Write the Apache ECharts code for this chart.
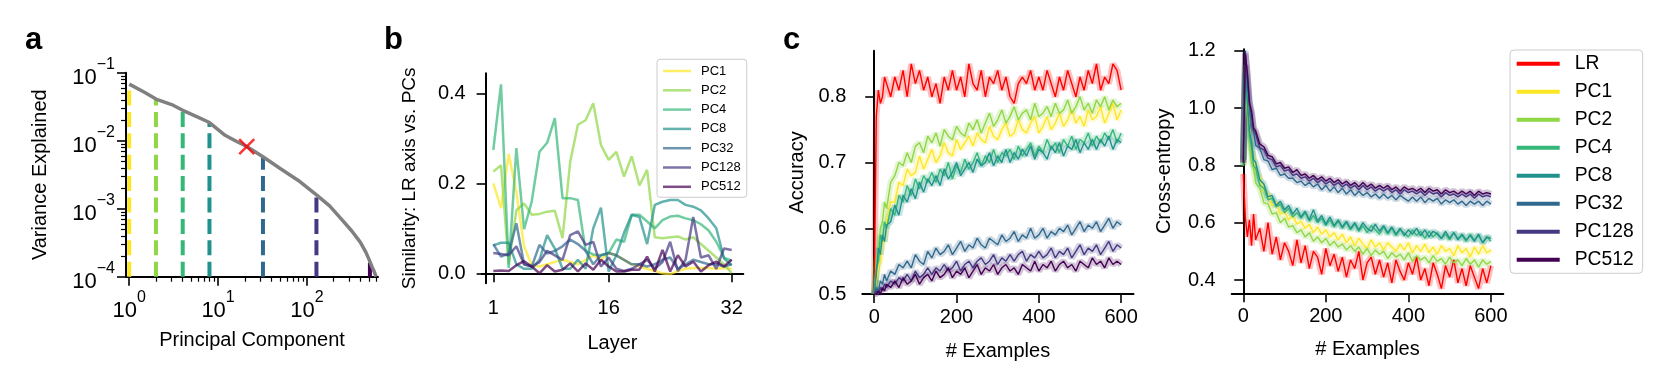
<!DOCTYPE html>
<html>
<head>
<meta charset="utf-8">
<title>LR axis vs PCs</title>
<script src="https://cdn.jsdelivr.net/npm/echarts@6/dist/echarts.min.js"></script>
<style>
  html, body { margin: 0; padding: 0; background: #fff; }
  #chart { width: 1661px; height: 376px; }
</style>
</head>
<body>
<div id="chart"></div>
<script>
// ---- shared ----
var pcNames = ['PC1', 'PC2', 'PC4', 'PC8', 'PC32', 'PC128', 'PC512'];
var pcColors = ['#fde725', '#8fd744', '#35b779', '#21918c', '#31688e', '#443983', '#440154'];
var lrColor = '#ff0000';

// ---- panel a: variance explained ----
var pcIndex = [1, 1.5, 2, 3, 4, 6, 8, 12, 16, 21, 32, 50, 80, 128, 180, 250, 320, 400, 460, 500, 540, 570, 600];
var varExplained = [0.068, 0.051, 0.041, 0.034, 0.028, 0.022, 0.0185, 0.012, 0.0098, 0.0082, 0.0058, 0.0039, 0.0026, 0.0016,
  0.0011, 0.00068, 0.00047, 0.00032, 0.00023, 0.00018, 0.00014, 0.00012, 0.0001];
var dropPC = [1, 2, 4, 8, 32, 128, 512];
var dropTop = [0.066, 0.041, 0.028, 0.0185, 0.0057, 0.0016, 0.00016];
var lrPoint = [21, 0.0082];
var xMajor = [1, 10, 100];
var xMinor = [2, 3, 4, 5, 6, 7, 8, 9, 20, 30, 40, 50, 60, 70, 80, 90, 200, 300, 400, 500, 600];
var yMajor = [0.0001, 0.001, 0.01, 0.1];
var yMinor = [0.0002, 0.0003, 0.0004, 0.0005, 0.0006, 0.0007, 0.0008, 0.0009,
  0.002, 0.003, 0.004, 0.005, 0.006, 0.007, 0.008, 0.009,
  0.02, 0.03, 0.04, 0.05, 0.06, 0.07, 0.08, 0.09];

// ---- panel b: similarity per layer ----
var layers = [1, 2, 3, 4, 5, 6, 7, 8, 9, 10, 11, 12, 13, 14, 15, 16, 17, 18, 19, 20, 21, 22, 23, 24, 25, 26, 27, 28, 29, 30, 31, 32];
var simPC1 = [0.20, 0.145, 0.265, 0.18, 0.06, 0.018, 0.015, 0.02, 0.025, 0.03, 0.025, 0.02, 0.03, 0.04, 0.03, 0.045,
  0.04, 0.03, 0.02, 0.015, 0.01, 0.005, 0.0, -0.002, 0.005, 0.01, 0.012, 0.012, 0.012, 0.01, 0.012, 0.01];
var simPC2 = [0.226, 0.24, 0.02, 0.14, 0.155, 0.13, 0.132, 0.137, 0.139, 0.078, 0.248, 0.33, 0.34, 0.378, 0.285, 0.252,
  0.27, 0.215, 0.26, 0.195, 0.23, 0.08, 0.078, 0.08, 0.082, 0.075, 0.08, 0.065, 0.05, 0.035, 0.02, 0.0];
var simPC4 = [0.274, 0.42, 0.012, 0.278, 0.098, 0.16, 0.27, 0.29, 0.345, 0.167, 0.167, 0.163, 0.05, 0.042, 0.04, 0.045,
  0.075, 0.07, 0.13, 0.13, 0.115, 0.1, 0.118, 0.126, 0.128, 0.122, 0.118, 0.109, 0.095, 0.07, 0.035, 0.028];
var simPC8 = [0.062, 0.068, 0.068, 0.02, 0.01, 0.01, 0.03, 0.085, 0.055, 0.01, 0.01, 0.03, 0.01, 0.1, 0.146, 0.004,
  0.04, 0.09, 0.13, 0.125, 0.065, 0.152, 0.159, 0.163, 0.163, 0.152, 0.148, 0.14, 0.122, 0.1, 0.033, 0.018];
var simPC32 = [0.065, 0.037, 0.044, 0.111, 0.02, 0.015, 0.063, 0.044, 0.05, 0.06, 0.075, 0.065, 0.05, 0.02, 0.04, 0.045,
  0.04, 0.03, 0.02, 0.02, 0.015, 0.02, 0.03, 0.035, 0.01, 0.02, 0.03, 0.025, 0.02, 0.02, 0.015, 0.02];
var simPC128 = [0.045, 0.043, 0.04, 0.06, 0.02, 0.015, 0.025, 0.05, 0.04, 0.03, 0.085, 0.093, 0.063, 0.07, 0.015, 0.035,
  0.01, 0.005, 0.01, 0.02, 0.03, 0.01, 0.025, 0.07, 0.005, 0.03, 0.125, 0.035, 0.04, 0.01, 0.055, 0.052];
var simPC512 = [0.005, 0.006, 0.005, 0.018, 0.027, 0.015, 0.0, 0.018, 0.004, 0.008, 0.022, 0.004, 0.022, 0.008, 0.03, 0.015,
  0.004, 0.004, 0.008, 0.008, 0.037, 0.004, 0.052, 0.004, 0.04, 0.015, 0.026, 0.004, 0.018, 0.026, 0.015, 0.03];
var simAll = [simPC1, simPC2, simPC4, simPC8, simPC32, simPC128, simPC512];

// ---- panel c: accuracy / cross-entropy vs # examples ----
var examples = [0, 5, 10, 15, 20, 25, 30, 40, 50, 60, 70, 80, 90, 100, 110, 120, 130, 140, 150, 160, 170, 180, 190, 200,
  210, 220, 230, 240, 250, 260, 270, 280, 290, 300, 310, 320, 330, 340, 350, 360, 370, 380, 390, 400,
  410, 420, 430, 440, 450, 460, 470, 480, 490, 500, 510, 520, 530, 540, 550, 560, 570, 580, 590, 600];

var accLR = [0.50, 0.77, 0.81, 0.79, 0.80, 0.83, 0.82,
  0.80, 0.83, 0.81, 0.84, 0.80, 0.85, 0.82, 0.84, 0.81, 0.83,
  0.80, 0.82, 0.79, 0.83, 0.81, 0.84, 0.81, 0.83, 0.80, 0.85,
  0.82, 0.81, 0.84, 0.80, 0.83, 0.82, 0.84, 0.81, 0.83, 0.80,
  0.79, 0.82, 0.83, 0.82, 0.84, 0.81, 0.83, 0.81, 0.84, 0.82,
  0.80, 0.83, 0.81, 0.84, 0.82, 0.80, 0.83, 0.81, 0.84, 0.82,
  0.85, 0.81, 0.83, 0.82, 0.85, 0.84, 0.81];
var accPC1 = [0.50, 0.52, 0.54, 0.55, 0.58, 0.58, 0.61,
  0.64, 0.64, 0.67, 0.665, 0.69, 0.68, 0.685, 0.71, 0.69, 0.705,
  0.72, 0.70, 0.71, 0.73, 0.715, 0.71, 0.735, 0.72, 0.73, 0.74,
  0.725, 0.745, 0.735, 0.73, 0.755, 0.74, 0.735, 0.75, 0.76, 0.74,
  0.745, 0.765, 0.75, 0.745, 0.76, 0.77, 0.745, 0.755, 0.77, 0.75,
  0.76, 0.775, 0.755, 0.765, 0.78, 0.76, 0.77, 0.755, 0.78, 0.765,
  0.77, 0.785, 0.76, 0.775, 0.79, 0.765, 0.78];
var accPC2 = [0.50, 0.55, 0.57, 0.60, 0.61, 0.64, 0.63,
  0.67, 0.68, 0.70, 0.695, 0.715, 0.70, 0.725, 0.73, 0.715, 0.74,
  0.73, 0.745, 0.725, 0.75, 0.74, 0.735, 0.755, 0.745, 0.74, 0.76,
  0.75, 0.765, 0.745, 0.76, 0.775, 0.755, 0.765, 0.78, 0.76, 0.77,
  0.785, 0.765, 0.775, 0.78, 0.765, 0.79, 0.77, 0.775, 0.785, 0.77,
  0.79, 0.775, 0.78, 0.795, 0.775, 0.785, 0.80, 0.78, 0.79, 0.775,
  0.795, 0.785, 0.80, 0.78, 0.795, 0.785, 0.79];
var accPC4 = [0.50, 0.54, 0.55, 0.59, 0.58, 0.61, 0.60,
  0.63, 0.62, 0.65, 0.64, 0.665, 0.65, 0.675, 0.66, 0.68, 0.67,
  0.685, 0.67, 0.69, 0.68, 0.70, 0.675, 0.695, 0.685, 0.705, 0.69,
  0.70, 0.715, 0.695, 0.71, 0.70, 0.72, 0.70, 0.715, 0.71, 0.72,
  0.705, 0.725, 0.71, 0.72, 0.73, 0.71, 0.725, 0.715, 0.735, 0.72,
  0.73, 0.715, 0.735, 0.725, 0.74, 0.72, 0.735, 0.73, 0.745, 0.725,
  0.74, 0.73, 0.745, 0.735, 0.75, 0.73, 0.745];
var accPC8 = [0.50, 0.53, 0.57, 0.56, 0.59, 0.58, 0.605,
  0.61, 0.635, 0.62, 0.65, 0.64, 0.66, 0.645, 0.67, 0.655, 0.675,
  0.665, 0.68, 0.665, 0.69, 0.675, 0.685, 0.70, 0.68, 0.69, 0.70,
  0.685, 0.705, 0.695, 0.70, 0.715, 0.695, 0.71, 0.70, 0.72, 0.70,
  0.715, 0.705, 0.72, 0.71, 0.725, 0.705, 0.72, 0.715, 0.705, 0.725,
  0.715, 0.73, 0.71, 0.725, 0.72, 0.735, 0.715, 0.73, 0.72, 0.735,
  0.72, 0.735, 0.725, 0.74, 0.72, 0.735, 0.73];
var accPC32 = [0.50, 0.51, 0.505, 0.52, 0.515, 0.53, 0.52,
  0.535, 0.53, 0.545, 0.54, 0.55, 0.54, 0.56, 0.55, 0.545, 0.565,
  0.555, 0.57, 0.56, 0.565, 0.575, 0.56, 0.57, 0.58, 0.565, 0.575,
  0.57, 0.585, 0.575, 0.57, 0.585, 0.58, 0.575, 0.59, 0.58, 0.585,
  0.595, 0.58, 0.59, 0.585, 0.60, 0.585, 0.59, 0.60, 0.585, 0.595,
  0.59, 0.60, 0.595, 0.605, 0.59, 0.60, 0.61, 0.595, 0.605, 0.60,
  0.61, 0.595, 0.605, 0.615, 0.60, 0.61, 0.605];
var accPC128 = [0.50, 0.505, 0.50, 0.51, 0.505, 0.515, 0.51,
  0.52, 0.515, 0.525, 0.52, 0.53, 0.52, 0.535, 0.525, 0.53, 0.54,
  0.53, 0.54, 0.535, 0.545, 0.535, 0.54, 0.55, 0.535, 0.545, 0.55,
  0.54, 0.55, 0.555, 0.545, 0.55, 0.56, 0.545, 0.555, 0.55, 0.56,
  0.55, 0.56, 0.565, 0.55, 0.56, 0.555, 0.565, 0.555, 0.56, 0.57,
  0.555, 0.565, 0.56, 0.57, 0.555, 0.565, 0.575, 0.56, 0.57, 0.565,
  0.575, 0.56, 0.57, 0.58, 0.565, 0.575, 0.57];
var accPC512 = [0.50, 0.50, 0.505, 0.50, 0.51, 0.505, 0.515,
  0.51, 0.52, 0.51, 0.525, 0.515, 0.52, 0.53, 0.515, 0.525, 0.53,
  0.52, 0.535, 0.525, 0.53, 0.54, 0.525, 0.535, 0.53, 0.54, 0.525,
  0.535, 0.545, 0.53, 0.54, 0.535, 0.545, 0.53, 0.54, 0.545, 0.535,
  0.54, 0.53, 0.545, 0.54, 0.535, 0.55, 0.535, 0.545, 0.54, 0.55,
  0.535, 0.545, 0.55, 0.54, 0.545, 0.535, 0.55, 0.545, 0.54, 0.555,
  0.545, 0.55, 0.54, 0.555, 0.545, 0.55, 0.545];

var ceLR = [0.77, 0.62, 0.55, 0.61, 0.52, 0.63, 0.54,
  0.58, 0.50, 0.60, 0.49, 0.55, 0.47, 0.53, 0.50, 0.45, 0.54,
  0.46, 0.52, 0.44, 0.50, 0.48, 0.42, 0.51, 0.45, 0.49, 0.43,
  0.48, 0.41, 0.47, 0.44, 0.50, 0.40, 0.46, 0.48, 0.42, 0.47,
  0.41, 0.46, 0.39, 0.47, 0.43, 0.40, 0.46, 0.42, 0.48, 0.40,
  0.44, 0.38, 0.46, 0.42, 0.37, 0.45, 0.41, 0.47, 0.39, 0.44,
  0.38, 0.45, 0.41, 0.37, 0.44, 0.39, 0.45];
var cePC1 = [0.80, 1.15, 1.02, 0.93, 0.85, 0.83, 0.78,
  0.76, 0.71, 0.70, 0.66, 0.67, 0.63, 0.64, 0.61, 0.625, 0.595,
  0.605, 0.58, 0.595, 0.565, 0.585, 0.56, 0.575, 0.55, 0.565, 0.54,
  0.56, 0.53, 0.55, 0.52, 0.545, 0.525, 0.51, 0.54, 0.515, 0.53,
  0.505, 0.53, 0.515, 0.50, 0.525, 0.505, 0.53, 0.495, 0.52, 0.50,
  0.525, 0.495, 0.515, 0.49, 0.52, 0.50, 0.51, 0.485, 0.52, 0.495,
  0.51, 0.48, 0.515, 0.49, 0.52, 0.495, 0.505];
var cePC2 = [0.80, 1.10, 0.97, 0.89, 0.81, 0.79, 0.74,
  0.72, 0.67, 0.665, 0.63, 0.635, 0.60, 0.615, 0.585, 0.59, 0.565,
  0.575, 0.55, 0.565, 0.535, 0.55, 0.53, 0.545, 0.52, 0.535, 0.515,
  0.525, 0.505, 0.52, 0.50, 0.515, 0.49, 0.51, 0.485, 0.505, 0.49,
  0.50, 0.475, 0.495, 0.48, 0.49, 0.47, 0.495, 0.465, 0.485, 0.47,
  0.48, 0.46, 0.485, 0.465, 0.475, 0.455, 0.48, 0.46, 0.47, 0.45,
  0.475, 0.455, 0.47, 0.445, 0.47, 0.455, 0.465];
var cePC4 = [0.82, 1.12, 1.01, 0.90, 0.86, 0.80, 0.79,
  0.73, 0.72, 0.68, 0.685, 0.655, 0.665, 0.635, 0.65, 0.62, 0.635,
  0.615, 0.635, 0.605, 0.625, 0.60, 0.615, 0.59, 0.61, 0.585, 0.605,
  0.58, 0.60, 0.575, 0.595, 0.57, 0.59, 0.565, 0.59, 0.575, 0.56,
  0.585, 0.56, 0.58, 0.555, 0.575, 0.565, 0.55, 0.575, 0.555, 0.57,
  0.545, 0.57, 0.55, 0.565, 0.545, 0.56, 0.54, 0.565, 0.545, 0.555,
  0.535, 0.56, 0.54, 0.555, 0.53, 0.55, 0.535];
var cePC8 = [0.80, 1.12, 1.03, 0.92, 0.88, 0.82, 0.81,
  0.75, 0.735, 0.69, 0.695, 0.66, 0.675, 0.645, 0.66, 0.63, 0.65,
  0.62, 0.64, 0.61, 0.645, 0.605, 0.625, 0.595, 0.62, 0.59, 0.61,
  0.585, 0.605, 0.58, 0.60, 0.575, 0.60, 0.58, 0.57, 0.595, 0.57,
  0.59, 0.565, 0.585, 0.56, 0.58, 0.555, 0.575, 0.56, 0.58, 0.555,
  0.575, 0.55, 0.57, 0.56, 0.545, 0.57, 0.545, 0.565, 0.54, 0.56,
  0.54, 0.555, 0.535, 0.56, 0.53, 0.55, 0.545];
var cePC32 = [0.82, 1.15, 1.08, 1.01, 0.94, 0.92, 0.87,
  0.86, 0.82, 0.815, 0.785, 0.79, 0.765, 0.77, 0.755, 0.755, 0.74,
  0.745, 0.73, 0.74, 0.725, 0.735, 0.715, 0.73, 0.71, 0.725, 0.705,
  0.72, 0.70, 0.715, 0.695, 0.71, 0.695, 0.705, 0.69, 0.70, 0.685,
  0.70, 0.685, 0.695, 0.68, 0.695, 0.685, 0.675, 0.69, 0.675, 0.69,
  0.67, 0.685, 0.675, 0.685, 0.665, 0.68, 0.67, 0.68, 0.665, 0.675,
  0.66, 0.675, 0.665, 0.675, 0.66, 0.675, 0.665];
var cePC128 = [0.81, 1.20, 1.11, 1.01, 0.98, 0.92, 0.91,
  0.86, 0.855, 0.825, 0.82, 0.795, 0.80, 0.78, 0.785, 0.765, 0.77,
  0.755, 0.76, 0.745, 0.755, 0.74, 0.75, 0.735, 0.745, 0.73, 0.74,
  0.725, 0.735, 0.72, 0.73, 0.715, 0.73, 0.715, 0.725, 0.71, 0.72,
  0.71, 0.72, 0.705, 0.715, 0.70, 0.715, 0.705, 0.71, 0.70, 0.71,
  0.695, 0.71, 0.70, 0.705, 0.69, 0.705, 0.695, 0.70, 0.69, 0.70,
  0.69, 0.70, 0.685, 0.70, 0.69, 0.695, 0.69];
var cePC512 = [0.81, 1.19, 1.12, 1.02, 0.99, 0.93, 0.92,
  0.875, 0.865, 0.835, 0.83, 0.805, 0.81, 0.79, 0.795, 0.775, 0.785,
  0.765, 0.77, 0.755, 0.765, 0.75, 0.76, 0.745, 0.755, 0.74, 0.75,
  0.735, 0.745, 0.73, 0.74, 0.725, 0.74, 0.725, 0.735, 0.72, 0.73,
  0.72, 0.73, 0.715, 0.725, 0.71, 0.725, 0.715, 0.72, 0.71, 0.72,
  0.705, 0.72, 0.71, 0.715, 0.70, 0.715, 0.705, 0.71, 0.70, 0.71,
  0.70, 0.71, 0.695, 0.71, 0.70, 0.705, 0.70];

var cNames = ['LR'].concat(pcNames);
var cColors = [lrColor].concat(pcColors);
var accAll = [accLR, accPC1, accPC2, accPC4, accPC8, accPC32, accPC128, accPC512];
var ceAll = [ceLR, cePC1, cePC2, cePC4, cePC8, cePC32, cePC128, cePC512];

// ---- helpers ----
var FONT = 'Liberation Sans, Arial, Helvetica, sans-serif';

function zip(xs, ys) {
  return xs.map(function (x, i) { return [x, ys[i]]; });
}

function baseAxis(o) {
  var ax = {
    gridIndex: o.grid,
    type: o.type || 'value',
    position: o.position,
    min: o.min,
    max: o.max,
    name: o.name,
    nameLocation: 'middle',
    nameGap: o.nameGap,
    nameTextStyle: { fontFamily: FONT, fontSize: o.nameSize || 20, color: '#000' },
    axisLine: { show: true, lineStyle: { color: '#000', width: 2 } },
    axisTick: { show: true, inside: false, length: 9, customValues: o.ticks, lineStyle: { color: '#000', width: 1.6 } },
    axisLabel: {
      show: true, customValues: o.ticks, margin: o.margin,
      fontFamily: FONT, fontSize: 20, color: '#000',
      formatter: o.formatter
    },
    splitLine: { show: false },
    minorTick: { show: false },
    minorSplitLine: { show: false }
  };
  if (o.rich) ax.axisLabel.rich = o.rich;
  return ax;
}

function minorAxis(grid, type, position, min, max, ticks) {
  return {
    gridIndex: grid, type: type, position: position, min: min, max: max,
    axisLine: { show: false },
    axisTick: { show: true, length: 5, customValues: ticks, lineStyle: { color: '#000', width: 1.2 } },
    axisLabel: { show: false },
    splitLine: { show: false }
  };
}

function powLabel(v) {
  var e = Math.round(Math.log10(v));
  return '{b|10}{s|' + (e < 0 ? '\u2212' : '') + Math.abs(e) + '}';
}
var powRich = {
  b: { fontFamily: FONT, fontSize: 22, lineHeight: 32, verticalAlign: 'bottom', color: '#000' },
  s: { fontFamily: FONT, fontSize: 16, lineHeight: 13, verticalAlign: 'top', color: '#000' }
};

function fixed1(v) { return v.toFixed(1); }

// ---- axes ----
var xAxes = [
  baseAxis({ grid: 0, type: 'log', position: 'bottom', min: 0.92, max: 631, ticks: xMajor, margin: 13,
    name: 'Principal Component', nameGap: 54, formatter: powLabel, rich: powRich }),
  minorAxis(0, 'log', 'bottom', 0.92, 631, xMinor),
  baseAxis({ grid: 1, position: 'bottom', min: -0.51, max: 33.51, ticks: [1, 16, 32], margin: 15,
    name: 'Layer', nameGap: 50 }),
  baseAxis({ grid: 2, position: 'bottom', min: -29, max: 630, ticks: [0, 200, 400, 600], margin: 13,
    name: '# Examples', nameGap: 47 }),
  baseAxis({ grid: 3, position: 'bottom', min: -28, max: 630, ticks: [0, 200, 400, 600], margin: 13,
    name: '# Examples', nameGap: 46 })
];
var yAxes = [
  baseAxis({ grid: 0, type: 'log', position: 'left', min: 0.0001, max: 0.1, ticks: yMajor, margin: 11,
    name: 'Variance Explained', nameGap: 76, formatter: powLabel, rich: powRich }),
  minorAxis(0, 'log', 'left', 0.0001, 0.1, yMinor),
  baseAxis({ grid: 1, position: 'left', min: -0.0222, max: 0.4444, ticks: [0, 0.2, 0.4], margin: 16,
    name: 'Similarity: LR axis vs. PCs', nameGap: 62, nameSize: 19, formatter: fixed1 }),
  baseAxis({ grid: 2, position: 'left', min: 0.5, max: 0.87, ticks: [0.5, 0.6, 0.7, 0.8], margin: 16,
    name: 'Accuracy', nameGap: 55, formatter: fixed1 }),
  baseAxis({ grid: 3, position: 'left', min: 0.3536, max: 1.205, ticks: [0.4, 0.6, 0.8, 1.0, 1.2], margin: 16,
    name: 'Cross-entropy', nameGap: 57, formatter: fixed1 })
];

// ---- series ----
var series = [];

// panel a
dropPC.forEach(function (pc, i) {
  series.push({
    type: 'line', xAxisIndex: 0, yAxisIndex: 0, symbol: 'none', z: 2,
    data: [[pc, 0.0001], [pc, dropTop[i]]],
    lineStyle: { color: pcColors[i], width: 4, type: [15, 6.4] }
  });
});
series.push({
  type: 'line', xAxisIndex: 0, yAxisIndex: 0, symbol: 'none', z: 3, clip: true,
  data: zip(pcIndex, varExplained),
  lineStyle: { color: '#808080', width: 3.5 }
});
series.push({
  type: 'scatter', xAxisIndex: 0, yAxisIndex: 0, z: 5,
  data: [lrPoint],
  symbol: 'path://M0,0L10,10M10,0L0,10', symbolSize: 15,
  itemStyle: { color: 'rgba(0,0,0,0)', borderColor: lrColor, borderWidth: 2.5 }
});

// panel b
simAll.forEach(function (arr, i) {
  series.push({
    name: pcNames[i], type: 'line', xAxisIndex: 2, yAxisIndex: 2, symbol: 'none', z: 2,
    data: zip(layers, arr),
    lineStyle: { color: pcColors[i], width: 2.5, opacity: 0.7 }
  });
});

// panel c (band = wide translucent stroke, then the mean line)
function addPanelC(all, axisIdx) {
  all.forEach(function (arr, i) {
    var d = zip(examples, arr);
    series.push({
      name: cNames[i] + ' band', type: 'line', xAxisIndex: axisIdx, yAxisIndex: axisIdx, symbol: 'none', z: 2,
      data: d, lineStyle: { color: cColors[i], width: 6.5, opacity: 0.24 }
    });
    series.push({
      name: cNames[i], type: 'line', xAxisIndex: axisIdx, yAxisIndex: axisIdx, symbol: 'none', z: 3,
      data: d, lineStyle: { color: cColors[i], width: 1.4 }
    });
  });
}
addPanelC(accAll, 3);
addPanelC(ceAll, 4);

// ---- legends ----
var legendB = {
  orient: 'vertical', left: 657, top: 59.3, selectedMode: false,
  padding: [5.2, 6, 4, 6], itemGap: 6.3, itemWidth: 28, itemHeight: 2.5, icon: 'rect',
  backgroundColor: 'rgba(255,255,255,0.8)', borderColor: '#cccccc', borderWidth: 1, borderRadius: 3,
  textStyle: { fontFamily: FONT, fontSize: 13, color: '#000', padding: [0, 0, 0, 5] },
  data: pcNames.map(function (n, i) {
    return { name: n, itemStyle: { color: pcColors[i], opacity: 0.7 } };
  })
};
var legendC = {
  orient: 'vertical', left: 1510, top: 50, selectedMode: false,
  padding: [4.3, 9, 4, 6.7], itemGap: 9, itemWidth: 43, itemHeight: 4, icon: 'rect',
  backgroundColor: 'rgba(255,255,255,0.8)', borderColor: '#cccccc', borderWidth: 1, borderRadius: 4,
  textStyle: { fontFamily: FONT, fontSize: 19.3, color: '#000', padding: [0, 0, 0, 10] },
  data: cNames.map(function (n, i) {
    return { name: n, itemStyle: { color: cColors[i] } };
  })
};

function panelLetter(t, x) {
  return {
    text: t, left: x, top: 25, padding: 0,
    textStyle: { fontFamily: FONT, fontSize: 31, fontWeight: 'bold', color: '#000' }
  };
}

var option = {
  animation: false,
  backgroundColor: '#fff',
  title: [panelLetter('a', 25), panelLetter('b', 384), panelLetter('c', 783)],
  legend: [legendB, legendC],
  grid: [
    { left: 126, top: 72.7, width: 252, height: 204 },
    { left: 481.7, top: 73.3, width: 261.6, height: 210 },
    { left: 862.3, top: 50.7, width: 271.2, height: 243.4 },
    { left: 1231.7, top: 49.3, width: 271.6, height: 244 }
  ],
  xAxis: xAxes,
  yAxis: yAxes,
  series: series
};

var chart = echarts.init(document.getElementById('chart'), null, { renderer: 'canvas' });
chart.setOption(option);
</script>
</body>
</html>
